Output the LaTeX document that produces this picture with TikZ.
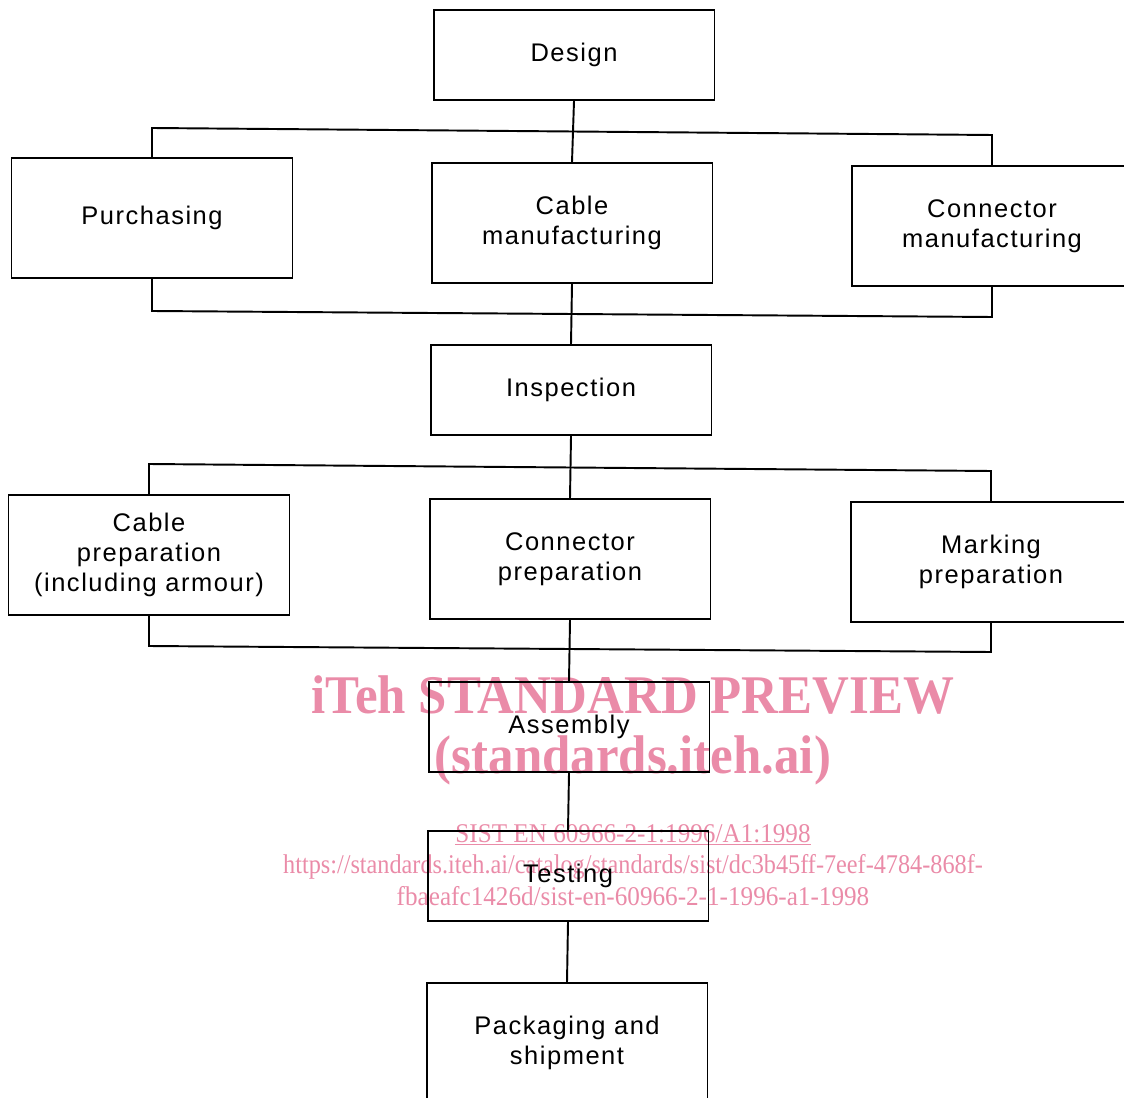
\documentclass[tikz,border=0pt]{standalone}
\usepackage{fontspec}
\setmainfont[LetterSpace=6]{Liberation Sans}
\newfontfamily\markFont{Liberation Serif}
\usetikzlibrary{positioning}
\definecolor{markColor}{RGB}{234,139,168}
\tikzstyle{flowChart} = [x = .02cm, y = -.02cm, line width = 1pt]
\tikzstyle{stepBox} = [draw, rectangle, line width = 1.1pt, minimum width = 5.62cm, minimum height = 1.8cm, align = center, inner sep = 0pt, font = \fontsize{14.5}{17}\selectfont]
\tikzstyle{tallBox} = [stepBox, minimum height = 2.4cm]
\tikzstyle{busLine} = [line width = 1.1pt, line join = miter]
\tikzstyle{markBig} = [color = markColor, anchor = base, inner sep = 0pt, xscale = .935, font = \markFont\bfseries\fontsize{31}{31}\selectfont]
\tikzstyle{markSmall} = [markBig, xscale = .995, font = \markFont\fontsize{15.4}{15.4}\selectfont]

\begin{document}
\begin{tikzpicture}[flowChart]
  \useasboundingbox (0,0) rectangle (1124,1097);
  \clip (0,0) rectangle (1124,1097);

  \node [markBig] (markTitle) at (633,713) {iTeh STANDARD PREVIEW};
  \node [markBig] (markSite) at (633,773) {(standards.iteh.ai)};
  \node [markSmall] (markCode) at (633,842) {\underline{SIST EN 60966-2-1:1996/A1:1998}};
  \node [markSmall, xscale = .963] (markUrlA) at (633,873) {https://standards.iteh.ai/catalog/standards/sist/dc3b45ff-7eef-4784-868f-};
  \node [markSmall] (markUrlB) at (633,905) {fbaeafc1426d/sist-en-60966-2-1-1996-a1-1998};

  \node [stepBox] (design) at (574,55) {Design};
  \node [tallBox] (purchasing) at (152,218) {Purchasing};
  \node [tallBox] (cableMan) at (572,223) {Cable\\manufacturing};
  \node [tallBox] (connMan) at (992,226) {Connector\\manufacturing};
  \node [stepBox] (inspection) at (571,390) {Inspection};
  \node [tallBox] (cablePrep) at (149,555) {Cable\\preparation\\(including armour)};
  \node [tallBox] (connPrep) at (570,559) {Connector\\preparation};
  \node [tallBox] (markPrep) at (991,562) {Marking\\preparation};
  \node [stepBox] (assembly) at (569,727) {Assembly};
  \node [stepBox] (testing) at (568,876) {Testing};
  \node [tallBox] (packaging) at (567,1043) {Packaging and\\shipment};

  \coordinate (busTopL) at (152,128);
  \coordinate (busTopR) at (992,135);
  \coordinate (busLowL) at (152,311);
  \coordinate (busLowR) at (992,317);
  \coordinate (busPrepTopL) at (149,464);
  \coordinate (busPrepTopR) at (991,471);
  \coordinate (busPrepLowL) at (149,646);
  \coordinate (busPrepLowR) at (991,652);

  \draw [busLine] (design.south) -- (cableMan.north);
  \draw [busLine] (purchasing.north) -- (busTopL) -- (busTopR) -- (connMan.north);
  \draw [busLine] (purchasing.south) -- (busLowL) -- (busLowR) -- (connMan.south);
  \draw [busLine] (cableMan.south) -- (inspection.north);
  \draw [busLine] (inspection.south) -- (connPrep.north);
  \draw [busLine] (cablePrep.north) -- (busPrepTopL) -- (busPrepTopR) -- (markPrep.north);
  \draw [busLine] (cablePrep.south) -- (busPrepLowL) -- (busPrepLowR) -- (markPrep.south);
  \draw [busLine] (connPrep.south) -- (assembly.north);
  \draw [busLine] (assembly.south) -- (testing.north);
  \draw [busLine] (testing.south) -- (packaging.north);
\end{tikzpicture}
\end{document}
